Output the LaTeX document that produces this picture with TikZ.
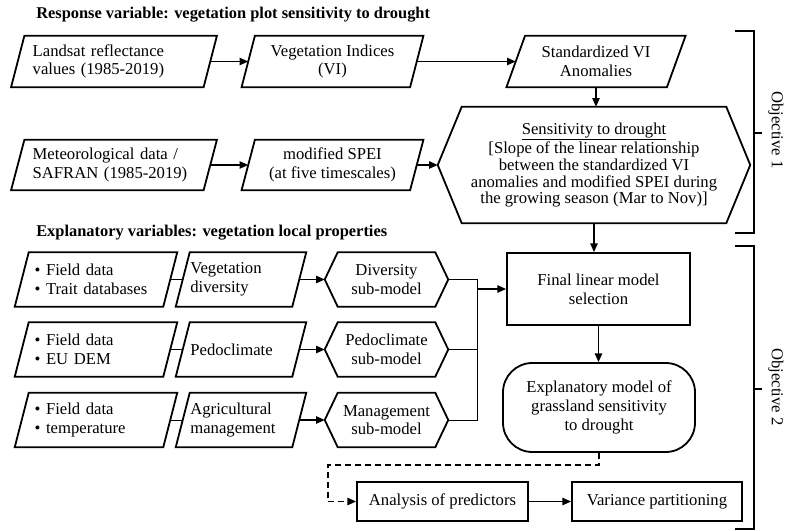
\documentclass[tikz,border=0pt]{standalone}
\usepackage{fontspec}
\setmainfont{Liberation Serif}
\usetikzlibrary{arrows.meta}

% outline of a slanted box drawn round an invisible rectangular node
\newcommand\paraframe[2]{%
  \draw[outl] ([xshift=#2]#1.north west) -- ([xshift=#2]#1.north east)
    -- ([xshift=-#2]#1.south east) -- ([xshift=-#2]#1.south west) -- cycle;}
% outline of a box pointed at both ends
\newcommand\hexframe[2]{%
  \draw[outl] (#1.west) -- ([xshift=#2]#1.north west) -- ([xshift=-#2]#1.north east)
    -- (#1.east) -- ([xshift=-#2]#1.south east) -- ([xshift=#2]#1.south west) -- cycle;}

\begin{document}
\begin{tikzpicture}[x=0.75pt,y=-0.75pt,
  every node/.style={font=\fontsize{12.5}{14}\selectfont, inner sep=0pt, align=center},
  sz/.style 2 args={minimum width=#1*0.75pt, minimum height=#2*0.75pt},
  outl/.style={line width=1.35pt, line join=miter},
  rbox/.style={draw, line width=1.35pt},
  arr/.style={line width=1.1pt, -{Triangle[length=6.5pt,width=5.5pt]}},
  dasharr/.style={line width=1.1pt, dash pattern=on 4.5pt off 3pt, -{Triangle[length=6.5pt,width=5.5pt]}},
  link/.style={line width=0.7pt},
  heading/.style={font=\bfseries\fontsize{12.3}{14}\selectfont, anchor=west},
  bracket/.style={line width=1.6pt},
]
\useasboundingbox (0,0) rectangle (786,531);

% ---------- headings ----------
\node[heading] (t1) at (36,15) {Response variable: vegetation plot sensitivity to drought};
\node[heading] (t2) at (36,233) {Explanatory variables: vegetation local properties};

% ---------- response variable chain ----------
\node[sz={192}{51}, text width=122pt, align=left] (land) at (114,61.5)
  {Landsat reflectance\\values (1985-2019)};
\node[sz={168}{51}] (vi) at (332.5,61.5) {Vegetation Indices\\(VI)};
\node[sz={160}{51}] (svi) at (596,61.5) {Standardized VI\\Anomalies};
\node[sz={192}{50}, text width=122pt, align=left] (met) at (114,165)
  {Meteorological data /\\SAFRAN (1985-2019)};
\node[sz={168}{50}] (spei) at (332.5,165) {modified SPEI\\(at five timescales)};
\node[sz={312}{116}, font=\fontsize{12.5}{12.6}\selectfont] (sens) at (594,165)
  {\underline{Sensitivity to drought}\\{[}Slope of the linear relationship\\between the standardized VI\\anomalies and modified SPEI during\\the growing season (Mar to Nov)]};

\paraframe{land}{5pt}
\paraframe{vi}{5pt}
\paraframe{svi}{7pt}
\paraframe{met}{5pt}
\paraframe{spei}{5pt}
\hexframe{sens}{18pt}

\draw[arr] (land.east) -- (vi.west);
\draw[arr] (vi.east) -- (svi.west);
\draw[arr] (svi.south) -- (svi.south |- sens.north);
\draw[arr] (met.east) -- (spei.west);
\draw[arr] (spei.east) -- (sens.west);

% ---------- explanatory variables ----------
\node[sz={148}{54}, text width=92pt, align=left] (src1) at (96,279.5) {•~Field data\\•~Trait databases};
\node[sz={148}{54}, text width=92pt, align=left] (src2) at (96,349.5) {•~Field data\\•~EU DEM};
\node[sz={148}{54}, text width=92pt, align=left] (src3) at (96,420) {•~Field data\\•~temperature};
\node[sz={116}{54}, text width=76pt, align=left] (var1) at (241,279.5) {Vegetation\\diversity};
\node[sz={116}{54}, text width=76pt, align=left] (var2) at (241,349.5) {Pedoclimate};
\node[sz={116}{54}, text width=76pt, align=left] (var3) at (241,420) {Agricultural\\management};
\node[sz={123}{54}] (sub1) at (386.5,279.5) {Diversity\\sub-model};
\node[sz={123}{54}] (sub2) at (386.5,349.5) {Pedoclimate\\sub-model};
\node[sz={123}{54}] (sub3) at (386.5,420) {Management\\sub-model};

\foreach \i in {1,2,3}{
  \paraframe{src\i}{5.25pt}
  \paraframe{var\i}{5.25pt}
  \hexframe{sub\i}{9.75pt}
  \draw[link] (src\i.east) -- (var\i.west);
  \draw[arr] (var\i.east) -- (sub\i.west);
}

\node[sz={183}{72}, rbox] (final) at (598.5,289) {Final linear model\\selection};
\node[sz={192}{89}, rbox, rounded corners=22pt] (expl) at (599,407.5)
  {Explanatory model of\\grassland sensitivity\\to drought};
\node[sz={171}{39}, rbox] (ana) at (442.5,501.5) {Analysis of predictors};
\node[sz={170}{39}, rbox] (vp) at (657,501.5) {Variance partitioning};

% sub-models merge into the model selection
\coordinate (jn) at (477,0);
\draw[link] (sub1.east) -- (sub1.east -| jn) -- (sub3.east -| jn) -- (sub3.east);
\draw[link] (sub2.east) -- (sub2.east -| jn);
\draw[arr] (final.west -| jn) -- (final.west);

\draw[arr] (sens.south) -- (sens.south |- final.north);
\draw[arr] (final.south) -- (final.south |- expl.north);

\coordinate (dl) at (328,465);
\draw[dasharr] (expl.south) |- (dl) |- (ana.west);
\draw[arr] (ana.east) -- (vp.west);

% ---------- objectives ----------
\coordinate (o1t) at (735,31);
\coordinate (o1b) at (735,233);
\coordinate (o2t) at (735,246);
\coordinate (o2b) at (735,529);
\draw[bracket] (o1t) -- ++(19,0) |- (o1b);
\draw[bracket] (754,133) -- (762,133);
\draw[bracket] (o2t) -- ++(19,0) |- (o2b);
\draw[bracket] (754,389) -- (762,389);
\node[rotate=-90, font=\fontsize{12.5}{14}\selectfont] (obj1) at (776,130) {Objective 1};
\node[rotate=-90, font=\fontsize{12.5}{14}\selectfont] (obj2) at (776,387) {Objective 2};
\end{tikzpicture}
\end{document}
